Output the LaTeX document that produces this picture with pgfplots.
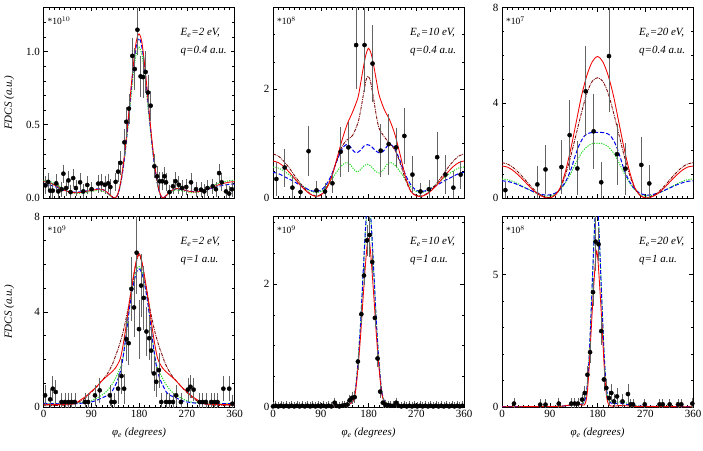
\documentclass[border=0pt]{standalone}
\usepackage{fontspec}
\setmainfont{Liberation Serif}
\usepackage{pgfplots}
\pgfplotsset{compat=1.18}
\definecolor{cred}{RGB}{240,0,0}
\definecolor{cbrown}{RGB}{120,0,0}
\definecolor{cblue}{RGB}{0,0,240}
\definecolor{cgreen}{RGB}{40,220,40}
\definecolor{cerr}{RGB}{100,100,100}
\pgfplotsset{
  panel/.style={
    scale only axis, width=191pt, height=190.5pt,
    xmin=0, xmax=360, xtick={0,90,180,270,360}, minor xtick={0,10,...,360},
    tick align=inside, tick pos=both, major tick length=4pt, minor tick length=2.2pt,
    axis line style={line width=0.7pt},
    every tick/.style={black, line width=0.5pt},
    every minor tick/.style={black, line width=0.5pt},
    tick label style={font=\fontsize{11}{13}\selectfont},
    /pgf/number format/assume math mode=true,
    label style={font=\fontsize{11}{13}\selectfont\itshape},
  },
  toprow/.style={xticklabel=\empty},
  botrow/.style={xlabel={φ\textsubscript{e} (degrees)},
    xlabel style={at={(axis description cs:0.5,-0.135)}, anchor=center}},
  leftcol/.style={ylabel={FDCS (a.u.)},
    ylabel style={at={(axis description cs:-0.18,0.5)}, anchor=center}},
  cR/.style={cred, line width=0.85pt, smooth, no marks},
  cK/.style={cbrown, line width=0.85pt, smooth, no marks, dash pattern=on 3pt off 1pt on 0.8pt off 1pt},
  cB/.style={cblue, line width=1pt, smooth, no marks, dash pattern=on 4pt off 2pt},
  cG/.style={cgreen, line width=1pt, smooth, no marks, dash pattern=on 1.2pt off 1.2pt},
  dat/.style={black, only marks, mark=*, mark size=2.1pt,
    error bars/.cd, y dir=both, y explicit,
    error bar style={cerr, line width=0.6pt},
    error mark options={cerr, mark size=3.2pt, line width=0.6pt}},
}
\newcommand{\ann}[2]{%
  \node[anchor=west, font=\fontsize{11}{13}\selectfont\itshape] at (rel axis cs:0.70,0.868) {#1};
  \node[anchor=west, font=\fontsize{11}{13}\selectfont\itshape] at (rel axis cs:0.70,0.771) {#2};}
\newcommand{\scl}[1]{%
  \node[anchor=west, font=\fontsize{9.5}{11}\selectfont, inner sep=0pt] at (rel axis cs:0.02,0.93) {*10$^{#1}$};}
\begin{document}
\begin{tikzpicture}
\useasboundingbox (0,0) rectangle (703pt,450pt);
% ---------------- Panel 1 ----------------
\begin{axis}[panel, toprow, leftcol, at={(43.5pt,252pt)}, anchor=south west,
  ymin=0, ymax=1.3, ytick={0,0.5,1}, minor ytick={0.1,0.2,...,1.3},
  yticklabel style={/pgf/number format/.cd, fixed, fixed zerofill, precision=1}]
\addplot[cG] coordinates {(0,0.12)(10,0.115)(20,0.1)(30,0.08)(40,0.055)(50,0.04)(60,0.032)(70,0.032)(80,0.038)(90,0.045)(100,0.05)(107,0.05)(115,0.042)(122,0.027)(128,0.008)(134,0)(138,0.008)(142,0.045)(146,0.11)(150,0.2)(154,0.31)(158,0.44)(162,0.58)(166,0.73)(170,0.87)(174,0.97)(177,1.01)(180,1.03)(183,1.01)(186,0.97)(190,0.87)(194,0.73)(198,0.58)(202,0.44)(206,0.31)(210,0.2)(214,0.11)(218,0.045)(222,0.008)(225,0)(230,0.01)(236,0.03)(243,0.048)(251,0.055)(260,0.05)(270,0.042)(280,0.036)(290,0.038)(300,0.05)(310,0.068)(320,0.085)(330,0.1)(340,0.11)(350,0.118)(360,0.12)};
\addplot[cB] coordinates {(0,0.095)(10,0.09)(20,0.08)(30,0.065)(40,0.05)(50,0.042)(60,0.04)(70,0.042)(80,0.048)(90,0.055)(100,0.062)(107,0.063)(115,0.052)(122,0.032)(128,0.01)(134,0)(138,0.008)(142,0.045)(146,0.11)(150,0.2)(154,0.32)(158,0.46)(162,0.61)(166,0.77)(170,0.91)(174,1.02)(177,1.07)(180,1.09)(183,1.07)(186,1.02)(190,0.91)(194,0.77)(198,0.61)(202,0.46)(206,0.32)(210,0.2)(214,0.11)(218,0.045)(222,0.008)(225,0)(230,0.012)(236,0.035)(243,0.055)(251,0.062)(260,0.058)(270,0.05)(280,0.045)(290,0.045)(300,0.05)(310,0.06)(320,0.07)(330,0.08)(340,0.088)(350,0.093)(360,0.095)};
\addplot[cR] coordinates {(0,0.112)(10,0.105)(20,0.09)(30,0.07)(40,0.052)(50,0.04)(60,0.036)(70,0.038)(80,0.045)(90,0.052)(100,0.058)(107,0.06)(115,0.052)(122,0.033)(128,0.012)(134,0)(138,0.01)(142,0.05)(146,0.12)(150,0.22)(154,0.34)(158,0.48)(162,0.63)(166,0.79)(170,0.93)(174,1.05)(177,1.1)(180,1.12)(183,1.1)(186,1.05)(190,0.93)(194,0.79)(198,0.63)(202,0.48)(206,0.34)(210,0.22)(214,0.12)(218,0.05)(222,0.01)(225,0)(230,0.012)(236,0.035)(243,0.055)(251,0.065)(260,0.06)(270,0.05)(280,0.042)(290,0.042)(300,0.05)(310,0.062)(320,0.075)(330,0.09)(340,0.1)(350,0.108)(360,0.112)};
\addplot[dat] table[x=x, y=y, y error=e] {
x y e
3.75 0.086 0.04
9 0.11 0.04
12.5 0.05 0.03
17.5 0.05 0.03
24 0.10 0.04
28 0.045 0.03
34 0.06 0.03
37.5 0.166 0.04
42.5 0.068 0.03
47 0.12 0.04
51 0.04 0.03
56 0.136 0.04
61 0.068 0.03
69 0.107 0.04
75 0.045 0.03
82.5 0.089 0.04
90.6 0.06 0.03
103 0.098 0.04
109 0.10 0.04
115.6 0.09 0.04
122 0.10 0.04
126 0.075 0.03
136 0.11 0.04
140.6 0.18 0.05
145 0.24 0.06
152.5 0.38 0.07
156 0.52 0.08
161 0.61 0.08
167.5 0.97 0.1
172 0.88 0.12
177 1.148 0.15
183 0.83 0.12
187.5 0.825 0.12
192.5 0.86 0.12
197 0.72 0.1
202 0.63 0.08
209 0.216 0.06
214 0.148 0.05
219 0.114 0.04
224 0.114 0.04
228 0.148 0.04
231 0.107 0.04
237.5 0.04 0.03
244 0.08 0.03
249 0.114 0.04
255 0.09 0.04
261 0.068 0.03
269 0.075 0.03
278 0.107 0.04
287.5 0.06 0.03
297 0.057 0.03
303 0.045 0.03
309 0.068 0.03
319 0.08 0.03
325 0.06 0.03
331 0.17 0.04
336 0.107 0.04
344 0.045 0.03
350 0.03 0.03
355 0.06 0.03
};
\scl{10}
\ann{E\textsubscript{e}=2 eV,}{q=0.4 a.u.}
\end{axis}
% ---------------- Panel 2 ----------------
\begin{axis}[panel, toprow, at={(273pt,252pt)}, anchor=south west,
  ymin=0, ymax=3.5, ytick={0,2}, minor ytick={0.5,1,...,3.5}]
\addplot[cG] coordinates {(0,0.57)(10,0.55)(20,0.5)(30,0.43)(40,0.35)(50,0.27)(60,0.19)(70,0.13)(80,0.1)(90,0.12)(100,0.2)(110,0.33)(120,0.48)(130,0.6)(138,0.65)(145,0.62)(152,0.53)(158,0.48)(165,0.52)(172,0.6)(178,0.62)(185,0.58)(192,0.5)(200,0.46)(208,0.52)(215,0.62)(222,0.65)(230,0.6)(240,0.48)(250,0.33)(260,0.2)(270,0.12)(280,0.1)(290,0.13)(300,0.19)(310,0.27)(320,0.35)(330,0.43)(340,0.5)(350,0.55)(360,0.57)};
\addplot[cB] coordinates {(0,0.47)(10,0.45)(20,0.4)(30,0.35)(40,0.3)(50,0.24)(60,0.19)(70,0.14)(80,0.12)(90,0.14)(100,0.24)(110,0.42)(120,0.67)(130,0.9)(138,0.98)(145,0.95)(152,0.86)(158,0.83)(165,0.88)(172,0.96)(178,0.98)(185,0.95)(192,0.88)(200,0.83)(208,0.86)(215,0.95)(222,0.98)(230,0.9)(240,0.67)(250,0.42)(260,0.24)(270,0.14)(280,0.12)(290,0.14)(300,0.19)(310,0.24)(320,0.3)(330,0.35)(340,0.4)(350,0.45)(360,0.47)};
\addplot[cK] coordinates {(0,0.81)(10,0.77)(20,0.68)(30,0.56)(40,0.42)(50,0.29)(60,0.17)(70,0.08)(80,0.04)(90,0.06)(100,0.17)(110,0.38)(120,0.68)(130,0.95)(140,1.07)(150,1.15)(160,1.38)(165,1.6)(170,1.88)(175,2.15)(178,2.23)(182,2.2)(185,2.08)(190,1.8)(195,1.5)(200,1.28)(210,1.12)(220,1.0)(230,0.88)(240,0.63)(250,0.33)(260,0.12)(270,0.05)(280,0.04)(290,0.08)(300,0.17)(310,0.29)(320,0.42)(330,0.56)(340,0.68)(350,0.77)(360,0.81)};
\addplot[cR] coordinates {(0,0.68)(10,0.65)(20,0.58)(30,0.48)(40,0.37)(50,0.25)(60,0.15)(70,0.07)(80,0.03)(90,0.05)(100,0.16)(110,0.37)(120,0.71)(130,1.06)(140,1.36)(150,1.58)(160,1.84)(165,2.1)(170,2.38)(175,2.63)(180,2.75)(185,2.65)(190,2.42)(195,2.15)(200,1.89)(210,1.62)(220,1.43)(230,1.16)(240,0.78)(250,0.38)(260,0.12)(270,0.04)(280,0.03)(290,0.07)(300,0.15)(310,0.25)(320,0.37)(330,0.48)(340,0.58)(350,0.65)(360,0.68)};
\addplot[dat] table[x=x, y=y, y error=e] {
x y e
6.3 0.35 0.26
22 0.56 0.29
36.6 0.19 0.17
51.8 0.11 0.1
67 0.86 0.4
82 0.14 0.12
98 0.12 0.1
112 0.27 0.12
127.6 0.85 0.4
142 0.93 0.4
156.7 2.81 0.75
172.5 2.81 0.8
187.6 2.47 0.65
203 0.87 0.43
218 0.99 0.5
232 0.93 0.3
247.6 1.14 0.45
262.8 0.43 0.28
278 0.12 0.1
293.7 0.16 0.12
309.5 0.75 0.4
325 0.43 0.3
340 0.19 0.25
353.7 0.43 0.2
};
\scl{8}
\ann{E\textsubscript{e}=10 eV,}{q=0.4 a.u.}
\end{axis}
% ---------------- Panel 3 ----------------
\begin{axis}[panel, toprow, at={(502pt,252pt)}, anchor=south west,
  ymin=0, ymax=8, ytick={0,4,8}, minor ytick={1,2,...,8}]
\addplot[cG] coordinates {(0,0.8)(10,0.77)(20,0.7)(30,0.6)(40,0.48)(50,0.36)(60,0.25)(70,0.16)(80,0.1)(90,0.09)(100,0.16)(110,0.35)(120,0.65)(130,1.05)(140,1.5)(150,1.9)(160,2.15)(170,2.28)(180,2.3)(190,2.28)(200,2.15)(210,1.9)(220,1.5)(230,1.05)(240,0.65)(250,0.35)(260,0.16)(270,0.09)(280,0.1)(290,0.16)(300,0.25)(310,0.36)(320,0.48)(330,0.6)(340,0.7)(350,0.77)(360,0.8)};
\addplot[cB] coordinates {(0,0.72)(10,0.7)(20,0.64)(30,0.56)(40,0.46)(50,0.36)(60,0.26)(70,0.18)(80,0.13)(90,0.13)(100,0.2)(110,0.38)(120,0.7)(130,1.2)(137,1.7)(145,2.2)(155,2.6)(165,2.73)(180,2.76)(195,2.73)(205,2.6)(215,2.2)(223,1.7)(230,1.2)(240,0.7)(250,0.38)(260,0.2)(270,0.13)(280,0.13)(290,0.18)(300,0.26)(310,0.36)(320,0.46)(330,0.56)(340,0.64)(350,0.7)(360,0.72)};
\addplot[cK] coordinates {(0,1.48)(10,1.43)(20,1.3)(30,1.1)(40,0.86)(50,0.6)(60,0.36)(70,0.17)(80,0.05)(90,0.02)(100,0.12)(110,0.42)(120,1.0)(130,1.8)(140,2.7)(150,3.6)(160,4.4)(170,4.9)(180,5.05)(190,4.9)(200,4.4)(210,3.6)(220,2.7)(230,1.8)(240,1.0)(250,0.42)(260,0.12)(270,0.02)(280,0.05)(290,0.17)(300,0.36)(310,0.6)(320,0.86)(330,1.1)(340,1.3)(350,1.43)(360,1.48)};
\addplot[cR] coordinates {(0,1.34)(10,1.3)(20,1.17)(30,0.98)(40,0.76)(50,0.52)(60,0.3)(70,0.13)(80,0.03)(90,0)(100,0.12)(110,0.45)(120,1.15)(130,2.1)(140,3.2)(150,4.3)(160,5.15)(170,5.72)(180,5.94)(190,5.72)(200,5.15)(210,4.3)(220,3.2)(230,2.1)(240,1.15)(250,0.45)(260,0.12)(270,0)(280,0.03)(290,0.13)(300,0.3)(310,0.52)(320,0.76)(330,0.98)(340,1.17)(350,1.3)(360,1.34)};
\addplot[dat] table[x=x, y=y, y error=e] {
x y e
6.3 0.33 0.2
66.6 0.57 0.65
82 1.2 0.9
112 1.3 1.0
127.5 2.64 1.35
142 1.24 1.0
157.7 4.48 1.75
172.7 2.8 1.45
187 0.66 0.7
201.6 5.96 2.2
216.7 1.84 1.15
232.4 1.23 0.95
262.6 1.39 1.05
277.6 0.61 0.65
};
\scl{7}
\ann{E\textsubscript{e}=20 eV,}{q=0.4 a.u.}
\end{axis}
% ---------------- Panel 4 ----------------
\begin{axis}[panel, botrow, leftcol, at={(43.5pt,43pt)}, anchor=south west,
  ymin=0, ymax=8, ytick={0,4,8}, minor ytick={1,2,...,8}]
\addplot[cG] coordinates {(0,0.15)(20,0.15)(40,0.15)(60,0.17)(80,0.2)(90,0.27)(100,0.37)(110,0.5)(120,0.68)(130,0.98)(140,1.4)(148,1.85)(152,2.4)(156,3.1)(160,3.9)(165,4.7)(170,5.3)(175,5.75)(180,5.9)(185,5.75)(190,5.3)(195,4.7)(200,3.9)(204,3.1)(208,2.4)(212,1.85)(220,1.4)(230,0.98)(240,0.68)(250,0.5)(260,0.37)(270,0.27)(280,0.2)(300,0.17)(320,0.15)(340,0.15)(360,0.15)};
\addplot[cB] coordinates {(0,0.15)(20,0.14)(40,0.13)(60,0.14)(80,0.18)(95,0.24)(110,0.38)(126,0.56)(135,0.9)(142,1.27)(147,1.7)(151,2.25)(155,2.9)(160,3.8)(165,4.6)(170,5.2)(175,5.65)(180,5.8)(185,5.65)(190,5.2)(195,4.6)(200,3.8)(205,2.9)(209,2.25)(213,1.7)(218,1.27)(225,0.9)(234,0.56)(250,0.38)(265,0.24)(280,0.18)(300,0.14)(320,0.13)(340,0.14)(360,0.15)};
\addplot[cK] coordinates {(0,0.05)(20,0.06)(40,0.08)(50,0.1)(60,0.15)(70,0.25)(80,0.4)(90,0.62)(100,0.85)(110,1.1)(120,1.38)(130,1.8)(135,2.1)(140,2.4)(145,2.75)(150,3.15)(155,3.65)(160,4.2)(165,4.85)(170,5.5)(175,6.1)(180,6.4)(185,6.1)(190,5.5)(195,4.85)(200,4.2)(205,3.65)(210,3.15)(215,2.75)(220,2.4)(225,2.1)(230,1.8)(240,1.38)(250,1.1)(260,0.85)(270,0.62)(280,0.4)(290,0.25)(300,0.15)(310,0.1)(320,0.08)(340,0.06)(360,0.05)};
\addplot[cR] coordinates {(0,0.1)(20,0.1)(40,0.11)(50,0.12)(60,0.15)(70,0.3)(80,0.45)(90,0.65)(100,0.85)(110,1.1)(120,1.3)(130,1.5)(135,1.62)(140,1.8)(145,2.05)(150,2.6)(155,3.3)(160,4.1)(165,4.85)(170,5.55)(175,6.15)(180,6.45)(185,6.15)(190,5.55)(195,4.85)(200,4.1)(205,3.3)(210,2.6)(215,2.05)(220,1.8)(225,1.62)(230,1.5)(240,1.3)(250,1.1)(260,0.85)(270,0.65)(280,0.45)(290,0.3)(300,0.15)(310,0.12)(320,0.11)(340,0.1)(360,0.1)};
\addplot[dat] table[x=x, y=y, y error=e] {
x y e
3 0.49 0.3
12.5 0.32 0.3
17.5 0.77 0.4
23 0.63 0.35
34 0.21 0.25
40.6 0.21 0.25
47 0.21 0.25
53 0.21 0.25
59 0.21 0.25
78 0.21 0.25
84 0.21 0.25
97 0.49 0.3
106 0.7 0.4
125 0.49 0.3
128 0.21 0.25
134 0.21 0.25
140.6 0.77 0.5
147 1.3 0.6
152 0.77 0.5
156 2.85 0.8
160.6 2.68 0.8
165.6 4.96 1.2
170.6 4.18 1.1
175.6 6.48 1.6
180 3.27 1.1
184 5.1 1.2
189 4.58 1.2
194 3.17 0.9
199 2.89 0.8
203 2.37 0.8
208 1.41 0.6
212.5 1.06 0.5
217.5 1.55 0.6
222 0.21 0.25
231 0.21 0.25
237.5 0.21 0.25
244 0.21 0.25
250 0.49 0.3
259 0.21 0.25
272 0.73 0.35
277 0.85 0.35
283 0.73 0.35
294 0.21 0.25
300 0.21 0.25
306 0.21 0.25
316 0.21 0.25
322 0.21 0.25
328 0.21 0.25
339 0.77 0.4
350 0.77 0.4
356 0.14 0.25
};
\scl{9}
\ann{E\textsubscript{e}=2 eV,}{q=1 a.u.}
\end{axis}
% ---------------- Panel 5 ----------------
\begin{axis}[panel, botrow, at={(273pt,43pt)}, anchor=south west,
  ymin=0, ymax=3.1, ytick={0,2}, minor ytick={0.5,1,...,3}]
\addplot[cG] coordinates {(0,0.01)(100,0.01)(120,0.02)(135,0.04)(145,0.06)(150,0.1)(155,0.25)(160,0.72)(165,1.35)(170,2.15)(175,2.95)(180,3.4)(185,2.95)(190,2.15)(195,1.35)(200,0.72)(205,0.25)(210,0.1)(215,0.06)(225,0.04)(240,0.02)(260,0.01)(360,0.01)};
\addplot[cB] coordinates {(0,0.01)(100,0.01)(120,0.02)(135,0.04)(145,0.05)(150,0.09)(155,0.25)(160,0.7)(165,1.35)(170,2.2)(175,3.0)(180,3.5)(185,3.0)(190,2.2)(195,1.35)(200,0.7)(205,0.25)(210,0.09)(215,0.05)(225,0.04)(240,0.02)(260,0.01)(360,0.01)};
\addplot[cR] coordinates {(0,0.01)(100,0.01)(120,0.02)(135,0.04)(145,0.05)(150,0.08)(155,0.22)(160,0.62)(165,1.15)(170,1.8)(175,2.4)(178,2.68)(180,2.74)(182,2.68)(185,2.4)(190,1.8)(195,1.15)(200,0.62)(205,0.22)(210,0.08)(215,0.04)(225,0.03)(240,0.02)(260,0.01)(360,0.01)};
\addplot[dat] table[x=x, y=y, y error=e] {
x y e
0 0.01 0.02
5 0.02 0.02
10 0.01 0.02
15 0.02 0.02
20 0.01 0.02
25 0.02 0.02
30 0.01 0.02
35 0.02 0.02
40 0.01 0.02
45 0.02 0.02
50 0.01 0.02
55 0.02 0.02
60 0.01 0.02
65 0.02 0.02
70 0.01 0.02
75 0.02 0.02
80 0.01 0.02
85 0.02 0.02
90 0.01 0.02
95 0.02 0.02
100 0.01 0.02
105 0.02 0.02
110 0.01 0.02
116 0.07 0.03
120 0.02 0.02
125 0.01 0.02
130 0.02 0.02
135 0.03 0.02
140 0.04 0.02
144.5 0.11 0.04
149 0.15 0.05
154 0.16 0.05
160 0.74 0.08
166.5 1.51 0.1
171.5 2.14 0.1
177 2.71 0.2
182 2.8 0.3
187 2.36 0.12
192 1.45 0.1
197 0.79 0.08
202 0.25 0.05
207 0.07 0.03
212 0.04 0.03
217 0.03 0.02
222 0.02 0.02
227 0.02 0.02
232 0.07 0.03
237 0.02 0.02
242 0.01 0.02
247 0.02 0.02
252 0.01 0.02
257 0.02 0.02
262 0.01 0.02
267 0.02 0.02
272 0.01 0.02
277 0.02 0.02
282 0.01 0.02
287 0.02 0.02
292 0.01 0.02
297 0.02 0.02
302 0.01 0.02
307 0.02 0.02
312 0.01 0.02
317 0.02 0.02
322 0.01 0.02
327 0.02 0.02
332 0.01 0.02
337 0.02 0.02
342 0.01 0.02
347 0.02 0.02
352 0.01 0.02
357 0.02 0.02
};
\scl{9}
\ann{E\textsubscript{e}=10 eV,}{q=1 a.u.}
\end{axis}
% ---------------- Panel 6 ----------------
\begin{axis}[panel, botrow, at={(502pt,43pt)}, anchor=south west,
  ymin=0, ymax=7.2, ytick={0,5}, minor ytick={1,2,...,7}]
\addplot[cG] coordinates {(0,0.01)(100,0.02)(120,0.05)(130,0.08)(140,0.1)(148,0.1)(152,0.12)(155,0.2)(158,0.4)(161,0.9)(164,1.8)(167,3.1)(170,4.6)(173,6.1)(176,7.4)(178.5,7.9)(181,7.4)(184,6.1)(187,4.6)(190,3.1)(193,1.8)(196,0.9)(199,0.4)(202,0.22)(205,0.2)(215,0.18)(225,0.2)(235,0.15)(250,0.06)(270,0.02)(360,0.01)};
\addplot[cB] coordinates {(0,0.01)(100,0.02)(120,0.05)(130,0.08)(140,0.1)(148,0.1)(152,0.12)(155,0.2)(158,0.4)(161,0.9)(164,1.8)(167,3.1)(170,4.6)(173,6.1)(176,7.4)(178.5,7.9)(181,7.4)(184,6.1)(187,4.6)(190,3.1)(193,1.8)(196,0.9)(199,0.4)(202,0.2)(210,0.12)(220,0.15)(230,0.12)(240,0.08)(260,0.03)(360,0.01)};
\addplot[cR] coordinates {(0,0.01)(100,0.02)(120,0.05)(135,0.09)(145,0.1)(152,0.07)(155,0.08)(158,0.2)(161,0.6)(164,1.4)(167,2.5)(170,3.6)(173,4.6)(176,5.5)(178.5,5.9)(181,5.5)(184,4.6)(187,3.6)(190,2.5)(193,1.4)(196,0.6)(199,0.2)(202,0.08)(205,0.04)(210,0.03)(220,0.05)(230,0.05)(240,0.04)(260,0.02)(360,0.01)};
\addplot[dat] table[x=x, y=y, y error=e] {
x y e
22.6 0.13 0.08
72 0.09 0.08
82 0.09 0.08
107 0.13 0.1
130.6 0.13 0.08
137 0.13 0.08
143 0.13 0.08
151 0.28 0.1
156 0.53 0.15
161 1.22 0.2
166 2.07 0.3
171.5 4.34 0.4
176.5 6.25 1.0
182 6.15 0.5
187 2.87 0.4
192 1.04 0.3
196.6 0.72 0.2
201.6 0.34 0.15
206 0.53 0.2
211 0.21 0.15
216.7 0.4 0.2
227 0.21 0.15
237.4 0.49 0.25
242.5 0.1 0.08
247 0.1 0.08
269 0.1 0.08
297 0.1 0.08
303 0.1 0.08
316 0.1 0.08
331.7 0.1 0.08
338 0.1 0.08
358.7 0.13 0.08
};
\scl{8}
\ann{E\textsubscript{e}=20 eV,}{q=1 a.u.}
\end{axis}
\end{tikzpicture}
\end{document}
